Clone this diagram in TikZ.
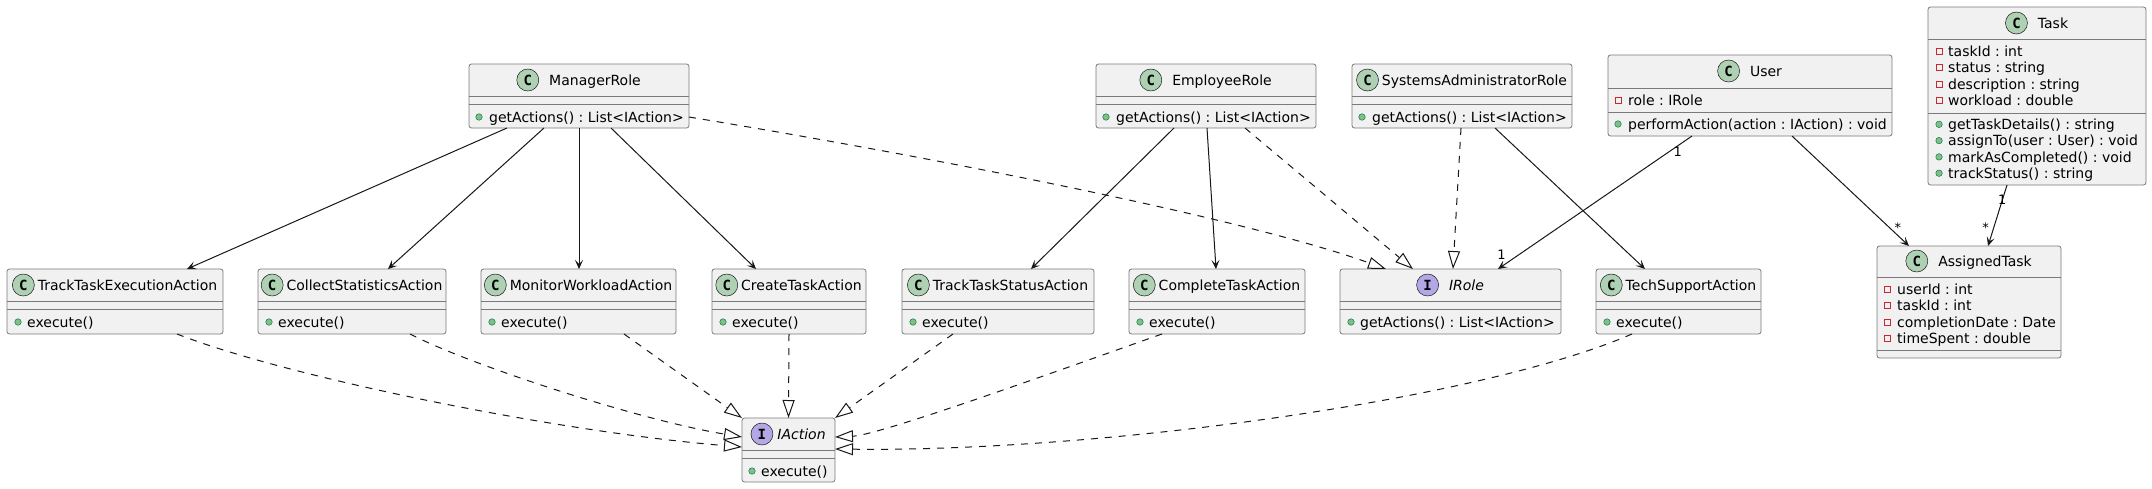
\documentclass[tikz,border=0pt]{standalone}
\usepackage{fontspec}
\setmainfont{DejaVu Sans}
\newfontfamily\iconfont{DejaVu Sans Mono}
\usetikzlibrary{positioning,arrows.meta}
\frenchspacing

\definecolor{boxfill}{HTML}{F1F1F1}
\definecolor{boxline}{HTML}{181818}
\definecolor{boxedge}{HTML}{7A7A7A}
\definecolor{classicon}{HTML}{ADD1B2}
\definecolor{ifaceicon}{HTML}{B4A7E5}
\definecolor{pubfill}{HTML}{84BE84}
\definecolor{publine}{HTML}{038048}
\definecolor{privline}{HTML}{C82930}

\tikzset{classbox/.style = {draw=boxedge, line width=0.8pt, fill=boxfill, rounded corners=2.5pt,
                            inner sep=0pt, outer sep=0pt, anchor=north west},
         headtext/.style = {inner sep=0pt, text height=10.2pt, text depth=0pt,
                            font=\fontsize{14}{16}\selectfont},
         membtext/.style = {headtext, anchor=west},
         cicon/.style    = {circle, draw=boxline, line width=0.5pt, fill=classicon, minimum size=22pt,
                            inner sep=0pt, font={\iconfont\bfseries\fontsize{14}{14}\selectfont}},
         iicon/.style    = {cicon, fill=ifaceicon},
         pubdot/.style   = {circle, draw=publine, line width=0.5pt, fill=pubfill, minimum size=6.5pt, inner sep=0pt},
         privsq/.style   = {rectangle, draw=privline, line width=0.7pt, minimum size=6pt, inner sep=0pt},
         sepline/.style  = {draw=boxedge, line width=0.8pt},
         assoc/.style    = {draw=boxline, line width=1pt, -{Stealth[length=9pt,width=8pt,inset=4pt]}},
         realize/.style  = {draw=boxline, line width=1pt, dash pattern=on 7pt off 7pt,
                            -{Triangle[length=18pt,width=12pt,fill=white]}},
         mult/.style     = {inner sep=0pt, font=\fontsize{13}{13}\selectfont}
        }

\begin{document}
\begin{tikzpicture}[x=1pt, y=-1pt]
  \path[use as bounding box, fill=white] (0,0) rectangle (2152,488);

  % roles
  \foreach \id/\x/\gap/\name in {mgr/469/10/ManagerRole, emp/1096/10/EmployeeRole,
                                 sys/1352/3/SystemsAdministratorRole}
  {
    \pgfmathsetmacro\nx{(22+\gap)/2}
    \node[classbox, minimum width=220pt, minimum height=64pt] (\id) at (\x,64) {};
    \node[headtext] (\id-n) at ([xshift=\nx pt, yshift=-16pt]\id.north) {\name};
    \node[cicon, left=\gap pt of \id-n] {C};
    \draw[sepline] ([yshift=-32.5pt]\id.north west) -- ([yshift=-32.5pt]\id.north east);
    \draw[sepline] ([yshift=-40pt]\id.north west) -- ([yshift=-40pt]\id.north east);
    \node[pubdot] at ([xshift=10pt, yshift=-53pt]\id.north west) {};
    \node[membtext] at ([xshift=20pt, yshift=-53pt]\id.north west) {getActions() : List<IAction>};
  }

  % actions
  \foreach \id/\x/\w/\name in {tte/7/216/TrackTaskExecutionAction, csa/258/188/CollectStatisticsAction,
                               mwa/481/195/MonitorWorkloadAction, cta/712/154/CreateTaskAction,
                               tts/902/192/TrackTaskStatusAction, cpt/1129/176/CompleteTaskAction,
                               tsa/1596/165/TechSupportAction}
  {
    \node[classbox, minimum width=\w pt, minimum height=65pt] (\id) at (\x,269) {};
    \node[headtext] (\id-n) at ([xshift=12.5pt, yshift=-16pt]\id.north) {\name};
    \node[cicon, left=3pt of \id-n] {C};
    \draw[sepline] ([yshift=-32.5pt]\id.north west) -- ([yshift=-32.5pt]\id.north east);
    \draw[sepline] ([yshift=-40pt]\id.north west) -- ([yshift=-40pt]\id.north east);
    \node[pubdot] at ([xshift=11pt, yshift=-53pt]\id.north west) {};
    \node[membtext] at ([xshift=20pt, yshift=-53pt]\id.north west) {execute()};
  }

  % interfaces
  \node[classbox, minimum width=221pt, minimum height=65pt] (irl) at (1340,269) {};
  \node[headtext] (irl-n) at ([xshift=16pt, yshift=-16pt]irl.north) {\itshape IRole};
  \node[iicon, left=10pt of irl-n] {I};
  \draw[sepline] ([yshift=-32.5pt]irl.north west) -- ([yshift=-32.5pt]irl.north east);
  \draw[sepline] ([yshift=-40pt]irl.north west) -- ([yshift=-40pt]irl.north east);
  \node[pubdot] at ([xshift=11pt, yshift=-53pt]irl.north west) {};
  \node[membtext] at ([xshift=20pt, yshift=-53pt]irl.north west) {getActions() : List<IAction>};

  \node[classbox, minimum width=93pt, minimum height=64pt] (iac) at (742,418) {};
  \node[headtext] (iac-n) at ([xshift=13pt, yshift=-16pt]iac.north) {\itshape IAction};
  \node[iicon, left=4pt of iac-n] {I};
  \draw[sepline] ([yshift=-32pt]iac.north west) -- ([yshift=-32pt]iac.north east);
  \draw[sepline] ([yshift=-40pt]iac.north west) -- ([yshift=-40pt]iac.north east);
  \node[pubdot] at ([xshift=10pt, yshift=-53pt]iac.north west) {};
  \node[membtext] at ([xshift=19pt, yshift=-53pt]iac.north west) {execute()};

  % user
  \node[classbox, minimum width=284pt, minimum height=81pt] (usr) at (1608,55) {};
  \node[headtext] (usr-n) at ([xshift=16pt, yshift=-16pt]usr.north) {User};
  \node[cicon, left=10pt of usr-n] {C};
  \draw[sepline] ([yshift=-33pt]usr.north west) -- ([yshift=-33pt]usr.north east);
  \node[privsq] at ([xshift=10pt, yshift=-45pt]usr.north west) {};
  \node[membtext] at ([xshift=20pt, yshift=-45pt]usr.north west) {role : IRole};
  \draw[sepline] ([yshift=-57pt]usr.north west) -- ([yshift=-57pt]usr.north east);
  \node[pubdot] at ([xshift=10pt, yshift=-69pt]usr.north west) {};
  \node[membtext] at ([xshift=20pt, yshift=-69pt]usr.north west) {performAction(action : IAction) : void};

  % task
  \node[classbox, minimum width=218pt, minimum height=178pt] (tsk) at (1928,7) {};
  \node[headtext] (tsk-n) at ([xshift=16pt, yshift=-16pt]tsk.north) {Task};
  \node[cicon, left=10pt of tsk-n] {C};
  \draw[sepline] ([yshift=-32pt]tsk.north west) -- ([yshift=-32pt]tsk.north east);
  \foreach \k/\txt in {0/taskId : int, 1/status : string, 2/description : string, 3/workload : double}
  {
    \pgfmathsetmacro\yy{44.3+16.3*\k}
    \node[privsq] at ([xshift=11pt, yshift=-\yy pt]tsk.north west) {};
    \node[membtext] at ([xshift=20pt, yshift=-\yy pt]tsk.north west) {\txt};
  }
  \draw[sepline] ([yshift=-106pt]tsk.north west) -- ([yshift=-106pt]tsk.north east);
  \foreach \k/\txt in {0/getTaskDetails() : string, 1/assignTo(user : User) : void,
                       2/markAsCompleted() : void, 3/trackStatus() : string}
  {
    \pgfmathsetmacro\yy{117.3+16.3*\k}
    \node[pubdot] at ([xshift=11pt, yshift=-\yy pt]tsk.north west) {};
    \node[membtext] at ([xshift=20pt, yshift=-\yy pt]tsk.north west) {\txt};
  }

  % assigned task
  \node[classbox, minimum width=184pt, minimum height=112pt] (asg) at (1877,246) {};
  \node[headtext] (asg-n) at ([xshift=16pt, yshift=-15pt]asg.north) {AssignedTask};
  \node[cicon, left=10pt of asg-n] {C};
  \draw[sepline] ([yshift=-31pt]asg.north west) -- ([yshift=-31pt]asg.north east);
  \foreach \k/\txt in {0/userId : int, 1/taskId : int, 2/completionDate : Date, 3/timeSpent : double}
  {
    \pgfmathsetmacro\yy{43.5+16.3*\k}
    \node[privsq] at ([xshift=10pt, yshift=-\yy pt]asg.north west) {};
    \node[membtext] at ([xshift=20pt, yshift=-\yy pt]asg.north west) {\txt};
  }
  \draw[sepline] ([yshift=-104pt]asg.north west) -- ([yshift=-104pt]asg.north east);

  % associations
  \draw[assoc] ([xshift=38pt]mgr.south west) -- ([xshift=180pt]tte.north west);
  \draw[assoc] ([xshift=75pt]mgr.south west) -- ([xshift=130pt]csa.north west);
  \draw[assoc] ([xshift=110pt]mgr.south west) -- ([xshift=98pt]mwa.north west);
  \draw[assoc] ([xshift=142pt]mgr.south west) -- ([xshift=44pt]cta.north west);
  \draw[assoc] ([xshift=78pt]emp.south west) -- ([xshift=129pt]tts.north west);
  \draw[assoc] ([xshift=111pt]emp.south west) -- ([xshift=87pt]cpt.north west);
  \draw[assoc] ([xshift=143pt]sys.south west) -- ([xshift=49pt]tsa.north west);
  \draw[assoc] ([xshift=84pt]usr.south west)
      -- node[mult, pos=0.12, xshift=9pt] {1} node[mult, pos=0.895, xshift=-17pt] {1}
      ([xshift=158pt]irl.north west);
  \draw[assoc] ([xshift=184pt]usr.south west)
      -- node[mult, pos=0.836, xshift=8pt] {*} ([xshift=32pt]asg.north west);
  \draw[assoc] ([xshift=79pt]tsk.south west)
      -- node[mult, pos=0.246] {1} node[mult, pos=0.705, xshift=-8pt] {*} ([xshift=111pt]asg.north west);

  % realizations
  \draw[realize] ([yshift=-21pt]mgr.east) .. controls +(261,43) and +(-136,-49) .. ([xshift=46pt]irl.north west);
  \draw[realize] ([xshift=149pt]emp.south west) -- ([xshift=73pt]irl.north west);
  \draw[realize] ([xshift=109pt]sys.south west) -- ([xshift=113pt]irl.north west);
  \draw[realize] ([xshift=170pt]tte.south west) .. controls +(113,44) and +(-183,-15) .. ([yshift=3pt]iac.west);
  \draw[realize] ([xshift=152pt]csa.south west) .. controls +(60,31) and +(-103,-17) .. ([yshift=13pt]iac.west);
  \draw[realize] ([xshift=143pt]mwa.south west) -- (iac.north west);
  \draw[realize] ([xshift=77pt]cta.south west) -- (iac.north);
  \draw[realize] ([xshift=51pt]tts.south west) -- (iac.north east);
  \draw[realize] ([xshift=33pt]cpt.south west) .. controls +(-102,36) and +(45,-2) .. ([yshift=13pt]iac.east);
  \draw[realize] ([xshift=36pt]tsa.south west) .. controls +(-152,66) and +(265,3) .. ([yshift=1pt]iac.east);
\end{tikzpicture}
\end{document}
